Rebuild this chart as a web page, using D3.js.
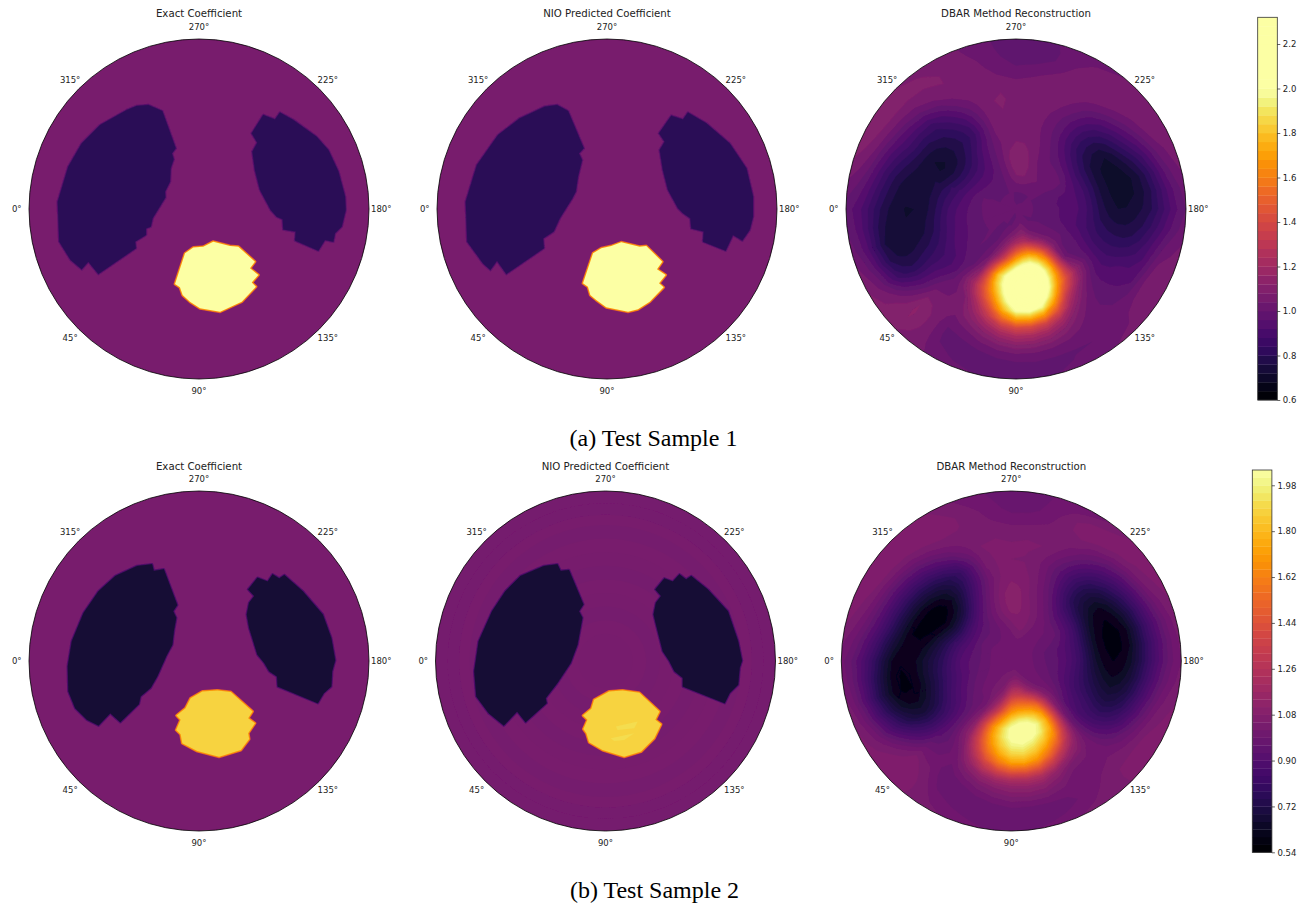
<!DOCTYPE html>
<html>
<head>
<meta charset="utf-8">
<script src="https://cdn.jsdelivr.net/npm/d3@7"></script>
<style>
html,body{margin:0;padding:0;background:#fff;overflow:hidden}
svg{display:block}
text{font-family:"DejaVu Sans",sans-serif;fill:#222}
.caption{font-family:"Liberation Serif",serif;fill:#000}
</style>
</head>
<body>
<svg id="fig" width="1310" height="907"></svg>
<script>
// ---------- categories and labels ----------
const panelTitles = ["Exact Coefficient", "NIO Predicted Coefficient", "DBAR Method Reconstruction"];
const captions = ["(a) Test Sample 1", "(b) Test Sample 2"];
const angleTicks = [0, 45, 90, 135, 180, 225, 270, 315];
const colorTicksA = [0.6, 0.8, 1.0, 1.2, 1.4, 1.6, 1.8, 2.0, 2.2];
const colorTicksB = [0.54, 0.72, 0.90, 1.08, 1.26, 1.44, 1.62, 1.80, 1.98];

// ---------- coefficient values ----------
const backgroundA = 1.07, lobeA = 0.81, inclusionA = 2.1;
const backgroundB = 1.04, lobeB = 0.68, inclusionB = 1.88, speckB = 1.91;
const nioRingRadiiB = [1, .93, .86, .8, .72, .64, .56, .48, .4, .32, .24, .16];
const nioRingValuesB = [1.03, 1.025, 1.04, 1.03, 1.04, 1.035, 1.03, 1.04, 1.035, 1.03, 1.04, 1.035];

// ---------- region outlines, [x, y] on the unit disc ----------
const exactLeftA = [[-.298,-.612],[-.216,-.576],[-.137,-.357],[-.159,-.327],[-.149,-.292],[-.167,-.239],[-.171,-.161],[-.2,-.102],[-.198,-.067],[-.273,.055],[-.284,.104],[-.312,.114],[-.312,.153],[-.376,.192],[-.371,.231],[-.592,.382],[-.651,.31],[-.69,.355],[-.755,.3],[-.822,.192],[-.831,-.043],[-.769,-.249],[-.69,-.386],[-.582,-.494],[-.425,-.582],[-.367,-.606]];
const exactRightA = [[.31,-.445],[.378,-.553],[.447,-.527],[.476,-.567],[.555,-.524],[.692,-.425],[.761,-.347],[.82,-.22],[.859,-.073],[.863,.006],[.839,.104],[.8,.143],[.79,.192],[.741,.182],[.702,.245],[.565,.186],[.569,.133],[.496,.12],[.492,.061],[.457,.045],[.422,.006],[.359,-.112],[.329,-.229],[.314,-.337],[.343,-.39]];
const exactBlobA = [[.084,.192],[.182,.218],[.231,.222],[.329,.31],[.3,.349],[.349,.388],[.31,.433],[.335,.457],[.251,.545],[.124,.604],[.006,.584],[-.053,.545],[-.096,.506],[-.112,.461],[-.141,.441],[-.082,.261],[-.033,.227],[.025,.222]];
const nioLeftA = [[-.294,-.612],[-.229,-.576],[-.137,-.357],[-.165,-.327],[-.147,-.288],[-.171,-.19],[-.184,-.102],[-.204,-.063],[-.278,.055],[-.314,.133],[-.376,.173],[-.371,.231],[-.592,.382],[-.647,.304],[-.686,.359],[-.729,.32],[-.822,.192],[-.831,-.043],[-.765,-.259],[-.641,-.435],[-.514,-.533],[-.367,-.602]];
const nioRightA = [[.306,-.445],[.378,-.549],[.447,-.527],[.476,-.567],[.584,-.504],[.722,-.386],[.82,-.239],[.859,-.073],[.859,.045],[.839,.124],[.796,.186],[.741,.153],[.698,.245],[.565,.192],[.569,.133],[.496,.114],[.49,.055],[.447,.025],[.418,-.004],[.359,-.112],[.329,-.229],[.31,-.347],[.339,-.396]];
const nioBlobA = [[.084,.196],[.192,.222],[.231,.218],[.325,.31],[.294,.355],[.345,.388],[.306,.437],[.333,.461],[.251,.545],[.182,.59],[.124,.604],[-.004,.578],[-.063,.535],[-.098,.506],[-.112,.457],[-.141,.437],[-.082,.261],[-.033,.231],[.025,.218]];
const exactLeftB = [[-.276,-.569],[-.266,-.53],[-.207,-.539],[-.128,-.329],[-.152,-.293],[-.134,-.254],[-.148,-.175],[-.157,-.096],[-.193,-.028],[-.246,.091],[-.285,.159],[-.344,.209],[-.354,.254],[-.463,.36],[-.522,.307],[-.591,.38],[-.659,.346],[-.728,.278],[-.768,.179],[-.772,.031],[-.748,-.116],[-.679,-.283],[-.591,-.411],[-.492,-.5],[-.364,-.559]];
const exactRightB = [[.289,-.421],[.344,-.49],[.404,-.467],[.433,-.51],[.472,-.486],[.502,-.506],[.61,-.411],[.728,-.274],[.778,-.136],[.801,-.004],[.783,.061],[.778,.15],[.734,.189],[.699,.248],[.463,.15],[.459,.091],[.413,.061],[.384,.012],[.344,-.037],[.295,-.195],[.281,-.274],[.295,-.343],[.325,-.382]];
const exactBlobB = [[.108,.173],[.187,.183],[.315,.297],[.289,.337],[.329,.366],[.289,.425],[.295,.459],[.246,.524],[.118,.563],[-.01,.53],[-.098,.484],[-.108,.431],[-.134,.406],[-.108,.346],[-.132,.321],[-.079,.278],[-.049,.219],[.02,.179]];
const nioLeftB = [[-.283,-.569],[-.264,-.53],[-.215,-.535],[-.13,-.333],[-.156,-.293],[-.136,-.254],[-.165,-.096],[-.205,.012],[-.283,.13],[-.352,.219],[-.346,.248],[-.47,.36],[-.52,.297],[-.598,.38],[-.687,.307],[-.76,.209],[-.772,.061],[-.746,-.116],[-.667,-.293],[-.589,-.411],[-.5,-.5],[-.362,-.559]];
const nioRightB = [[.293,-.421],[.346,-.486],[.396,-.467],[.435,-.51],[.474,-.48],[.504,-.5],[.602,-.421],[.72,-.293],[.78,-.116],[.803,-.002],[.789,.041],[.78,.14],[.73,.189],[.701,.248],[.455,.15],[.455,.1],[.406,.061],[.376,.002],[.337,-.057],[.297,-.215],[.283,-.274],[.297,-.343],[.327,-.382]];
const nioBlobB = [[.1,.173],[.199,.187],[.317,.297],[.293,.346],[.327,.372],[.287,.455],[.209,.533],[.11,.563],[-.018,.524],[-.096,.478],[-.112,.425],[-.13,.4],[-.106,.346],[-.132,.321],[-.083,.281],[-.067,.228],[.022,.179]];
const nioSpeck1B = [[.061,.386],[.189,.356],[.169,.396],[.071,.406]];
const nioSpeck2B = [[.031,.455],[.169,.425],[.11,.465],[.051,.47]];

// ---------- DBAR reconstructions: one row per angle, one column per radius ----------
const dbarThetas = d3.range(0, 360, 15);
const dbarRadii = [.1, .2, .3, .4, .5, .6, .7, .8, .9, 1];
const dbarA = [
[1.0,1.0,.95,.88,.77,.72,.73,.80,.91,.98],
[1.0,1.0,.96,.90,.80,.74,.73,.76,.92,1.02],
[1.0,1.0,.97,.93,.87,.84,.81,.87,1.01,1.08],
[1.0,1.0,1.0,.97,.95,1.0,1.06,1.12,1.12,1.08],
[1.0,1.0,1.02,1.1,1.2,1.08,1.05,1.0,1.0,1.03],
[1.0,1.1,1.32,1.8,1.72,1.45,1.2,1.05,.98,1.0],
[1.02,1.22,1.72,2.2,2.25,2.0,1.4,1.12,1.0,1.0],
[1.05,1.25,1.85,2.25,2.3,1.95,1.35,1.1,1.0,1.0],
[1.02,1.12,1.55,1.78,1.65,1.3,1.1,1.03,1.0,1.03],
[1.0,1.03,1.1,1.05,1.15,1.02,.98,1.0,1.03,1.05],
[1.0,1.0,1.0,.97,.93,.9,.93,.95,1.08,1.05],
[1.0,.98,.95,.90,.83,.80,.81,.89,1.0,1.05],
[1.0,.97,.95,.90,.78,.72,.74,.80,.91,1.0],
[1.0,.97,.95,.89,.76,.70,.72,.82,.97,1.05],
[1.0,1.0,1.0,.88,.76,.72,.82,.94,1.05,1.07],
[1.0,1.03,1.02,.93,.84,.84,.92,1.03,1.07,1.05],
[1.0,1.05,1.02,1.0,.97,.98,1.03,1.07,1.07,1.02],
[1.0,1.08,1.08,1.06,1.05,1.06,1.08,1.05,1.0,1.0],
[1.0,1.08,1.12,1.08,1.07,1.07,1.07,1.02,.98,.98],
[1.0,1.02,1.03,1.03,1.05,1.07,1.08,1.06,1.04,1.02],
[1.0,.98,.95,.92,.86,.91,1.0,1.07,1.08,1.07],
[1.0,.97,.9,.81,.77,.80,.87,1.0,1.08,1.08],
[1.0,.98,.9,.78,.71,.75,.85,.95,1.07,1.12],
[1.0,1.0,.93,.84,.76,.74,.77,.87,1.0,1.07]
];
const dbarB = [
[1.0,.95,.90,.78,.68,.61,.63,.78,.92,1.0],
[1.0,.96,.90,.80,.68,.60,.61,.74,.92,1.03],
[1.0,.98,.93,.85,.74,.68,.74,.87,1.0,1.06],
[1.0,1.0,.97,.92,.90,.92,.98,1.06,1.08,1.06],
[1.02,1.03,1.02,1.1,1.12,1.03,.99,.97,1.0,1.03],
[1.03,1.1,1.32,1.68,1.65,1.42,1.13,1.0,.97,1.0],
[1.05,1.3,1.68,2.05,1.98,1.72,1.22,1.05,.97,.98],
[1.06,1.3,1.72,2.1,1.95,1.68,1.22,1.05,.97,1.0],
[1.03,1.15,1.55,1.78,1.65,1.3,1.05,1.0,1.0,1.03],
[1.0,1.02,1.1,1.05,.98,.98,1.0,1.02,1.05,1.05],
[1.0,.99,.96,.88,.82,.78,.84,.96,1.05,1.06],
[1.0,.97,.92,.82,.72,.66,.72,.87,1.0,1.05],
[1.0,.96,.92,.82,.66,.60,.65,.80,.94,1.02],
[1.0,.96,.92,.82,.64,.59,.63,.80,.95,1.04],
[1.0,.98,.96,.85,.68,.62,.72,.87,1.02,1.06],
[1.0,1.0,.98,.88,.76,.75,.84,.96,1.06,1.05],
[1.0,1.02,1.02,.98,.93,.92,.98,1.04,1.07,1.0],
[1.0,1.06,1.07,1.05,1.04,1.03,1.05,1.03,1.0,.99],
[1.0,1.03,1.09,1.1,1.07,1.05,1.05,1.02,.98,.98],
[1.0,1.0,1.03,1.02,1.0,1.03,1.05,1.04,1.03,1.0],
[1.0,.97,.95,.88,.81,.81,.95,1.04,1.07,1.05],
[1.0,.96,.88,.71,.63,.70,.84,.98,1.07,1.07],
[1.0,.96,.85,.66,.57,.63,.78,.93,1.05,1.08],
[1.0,.95,.88,.74,.62,.60,.73,.89,1.0,1.06]
];

// ---------- layout ----------
const R = 170;
const rows = [
  {cx:[199,607,1016], cy:209, titleY:13, captionY:438, captionX:653.5,
   domain:[0.6,2.0], levels:[0.6,2.32,0.04], bar:{x:1257.7,w:19.6,top:17.3,bottom:400}, ticks:colorTicksA, fmt:".1f",
   bg:backgroundA, lobe:lobeA, blob:inclusionA,
   shapes:[[exactLeftA,exactRightA,exactBlobA],[nioLeftA,nioRightA,nioBlobA]], dbar:dbarA},
  {cx:[199,605.5,1011.3], cy:661, titleY:466, captionY:890, captionX:654.5,
   domain:[0.54,2.04], levels:[0.54,2.04,0.03], bar:{x:1252.3,w:19.6,top:470,bottom:852.3}, ticks:colorTicksB, fmt:".2f",
   bg:backgroundB, lobe:lobeB, blob:inclusionB,
   shapes:[[exactLeftB,exactRightB,exactBlobB],[nioLeftB,nioRightB,nioBlobB]], dbar:dbarB}
];

const svg = d3.select("#fig");
const defs = svg.append("defs");
defs.append("filter").attr("id","soft").attr("x","-5%").attr("y","-5%").attr("width","110%").attr("height","110%")
  .append("feGaussianBlur").attr("stdDeviation",0.6);

const rScale = d3.scaleLinear().domain([0,1]).range([0,R]);
const aScale = d3.scaleLinear().domain([0,360]).range([0,2*Math.PI]);

// Catmull-Rom mesh refinement used only for drawing the contour bands
function cr(p0,p1,p2,p3,t){return .5*((2*p1)+(-p0+p2)*t+(2*p0-5*p1+4*p2-p3)*t*t+(-p0+3*p1-3*p2+p3)*t*t*t);}
function refine(grid,nx,ny,f){
  const mx=(nx-1)*f+1,my=(ny-1)*f+1,out=new Float64Array(mx*my);
  const at=(i,j)=>grid[Math.max(0,Math.min(ny-1,j))*nx+Math.max(0,Math.min(nx-1,i))];
  for(let j=0;j<my;j++){
    const v=j/f,j0=Math.min(Math.floor(v),ny-1),tv=v-j0;
    for(let i=0;i<mx;i++){
      const u=i/f,i0=Math.min(Math.floor(u),nx-1),tu=u-i0,c=[];
      for(let k=-1;k<=2;k++) c.push(cr(at(i0-1,j0+k),at(i0,j0+k),at(i0+1,j0+k),at(i0+2,j0+k),tu));
      out[j*mx+i]=cr(c[0],c[1],c[2],c[3],tv);
    }
  }
  return {values:out,mx,my};
}

function drawDbar(g,row,color,band,cx,cy){
  const m=row.dbar, nT=dbarThetas.length, nR=dbarRadii.length;
  const nx=nT+3, ny=nR+3, grid=new Float64Array(nx*ny);
  const center=d3.mean(m,c=>c[0]);
  for(let j=0;j<ny;j++) for(let i=0;i<nx;i++){
    const col=m[(i-1+nT)%nT];
    const ri=j-2;
    grid[j*nx+i]= ri<0?center:col[Math.min(ri,nR-1)];
  }
  const f=2, ref=refine(grid,nx,ny,f);
  const dTheta=dbarThetas[1]-dbarThetas[0], dR=dbarRadii[1]-dbarRadii[0];
  const proj=d3.geoTransform({point(x,y){
    const th=aScale(((x-.5)/f-1)*dTheta), r=Math.max(0,rScale(((y-.5)/f-1)*dR));
    this.stream.point(cx-r*Math.cos(th),cy+r*Math.sin(th));
  }});
  const path=d3.geoPath(proj);
  const thr=band.slice(1,-1);
  const cont=d3.contours().size([ref.mx,ref.my]).thresholds(thr)(ref.values);
  const step=band[1]-band[0];
  g.append("circle").attr("cx",cx).attr("cy",cy).attr("r",R).attr("fill",color(band[0]+step/2));
  g.selectAll("path.band").data(cont).join("path").attr("class","band")
    .attr("d",path).attr("fill",d=>color(d.value+step/2)).attr("stroke",d=>color(d.value+step/2)).attr("stroke-width",.3);
}

rows.forEach((row,ri)=>{
  const color=d3.scaleSequential(d3.interpolateInferno).domain(row.domain).clamp(true);
  const n=Math.round((row.levels[1]-row.levels[0])/row.levels[2]);
  const band=d3.range(n+1).map(i=>+(row.levels[0]+i*row.levels[2]).toFixed(3));

  row.cx.forEach((cx,pi)=>{
    const cy=row.cy, id=`clip${ri}${pi}`;
    defs.append("clipPath").attr("id",id).append("circle").attr("cx",cx).attr("cy",cy).attr("r",R);
    const x=d3.scaleLinear().domain([-1,1]).range([cx-R,cx+R]);
    const y=d3.scaleLinear().domain([-1,1]).range([cy-R,cy+R]);
    const line=d3.line().x(d=>x(d[0])).y(d=>y(d[1])).curve(d3.curveLinearClosed);
    const outer=svg.append("g").attr("clip-path",`url(#${id})`);
    const g=outer.append("g").attr("filter","url(#soft)");

    if(pi<2){
      g.append("circle").attr("cx",cx).attr("cy",cy).attr("r",R+3).attr("fill",color(row.bg));
      if(ri===1&&pi===1){
        g.selectAll("circle.ring").data(nioRingRadiiB.map((r,i)=>({r,v:nioRingValuesB[i]}))).join("circle").attr("class","ring")
          .attr("cx",cx).attr("cy",cy).attr("r",d=>rScale(d.r)).attr("fill",d=>color(d.v));
      }
      const [L,Rt,B]=row.shapes[pi];
      [L,Rt].forEach(s=>{
        g.append("path").attr("d",line(s)).attr("fill","none").attr("stroke",color((row.bg+row.lobe)/2+.04)).attr("stroke-width",2.6).attr("stroke-linejoin","round");
        g.append("path").attr("d",line(s)).attr("fill",color(row.lobe)).attr("stroke",color(row.lobe)).attr("stroke-width",.4);
      });
      g.append("path").attr("d",line(B)).attr("fill","none").attr("stroke",color(1.45)).attr("stroke-width",3).attr("stroke-linejoin","round");
      g.append("path").attr("d",line(B)).attr("fill","none").attr("stroke",color(1.68)).attr("stroke-width",1.8).attr("stroke-linejoin","round");
      g.append("path").attr("d",line(B)).attr("fill",color(row.blob));
      if(ri===1&&pi===1){
        [nioSpeck1B,nioSpeck2B].forEach(s=>g.append("path").attr("d",line(s)).attr("fill",color(speckB)));
      }
    } else {
      drawDbar(g,row,color,band,cx,cy);
    }

    svg.append("circle").attr("cx",cx).attr("cy",cy).attr("r",R).attr("fill","none").attr("stroke","#000").attr("stroke-width",.8);

    svg.selectAll(null).data(angleTicks).join("text")
      .attr("x",d=>cx-rScale(1.072)*Math.cos(aScale(d)))
      .attr("y",d=>cy+rScale(1.072)*Math.sin(aScale(d)))
      .attr("text-anchor","middle").attr("dominant-baseline","central")
      .attr("font-size",8.5).text(d=>d+"°");

    svg.append("text").attr("x",cx).attr("y",row.titleY).attr("text-anchor","middle")
      .attr("dominant-baseline","central").attr("font-size",10.2).text(panelTitles[pi]);
  });

  svg.append("text").attr("class","caption").attr("x",row.captionX).attr("y",row.captionY)
    .attr("text-anchor","middle").attr("dominant-baseline","central").attr("font-size",24).text(captions[ri]);

  // colour bar
  const b=row.bar;
  const yBar=d3.scaleLinear().domain([row.levels[0],row.levels[1]]).range([b.bottom,b.top]);
  const cb=svg.append("g");
  cb.selectAll("rect").data(d3.pairs(band)).join("rect")
    .attr("x",b.x).attr("width",b.w)
    .attr("y",d=>yBar(d[1])).attr("height",d=>yBar(d[0])-yBar(d[1])+.3)
    .attr("fill",d=>color((d[0]+d[1])/2));
  cb.append("rect").attr("x",b.x).attr("y",b.top).attr("width",b.w).attr("height",b.bottom-b.top)
    .attr("fill","none").attr("stroke","#333").attr("stroke-width",.8);
  const axis=d3.axisRight(yBar).tickValues(row.ticks).tickFormat(d3.format(row.fmt)).tickSize(3).tickPadding(2.5);
  const ax=cb.append("g").attr("transform",`translate(${b.x+b.w},0)`).call(axis);
  ax.select(".domain").remove();
  ax.selectAll("text").attr("font-size",8.5).attr("font-family",'"DejaVu Sans",sans-serif');
  ax.selectAll("line").attr("stroke","#222").attr("stroke-width",.7);
});
</script>
</body>
</html>
